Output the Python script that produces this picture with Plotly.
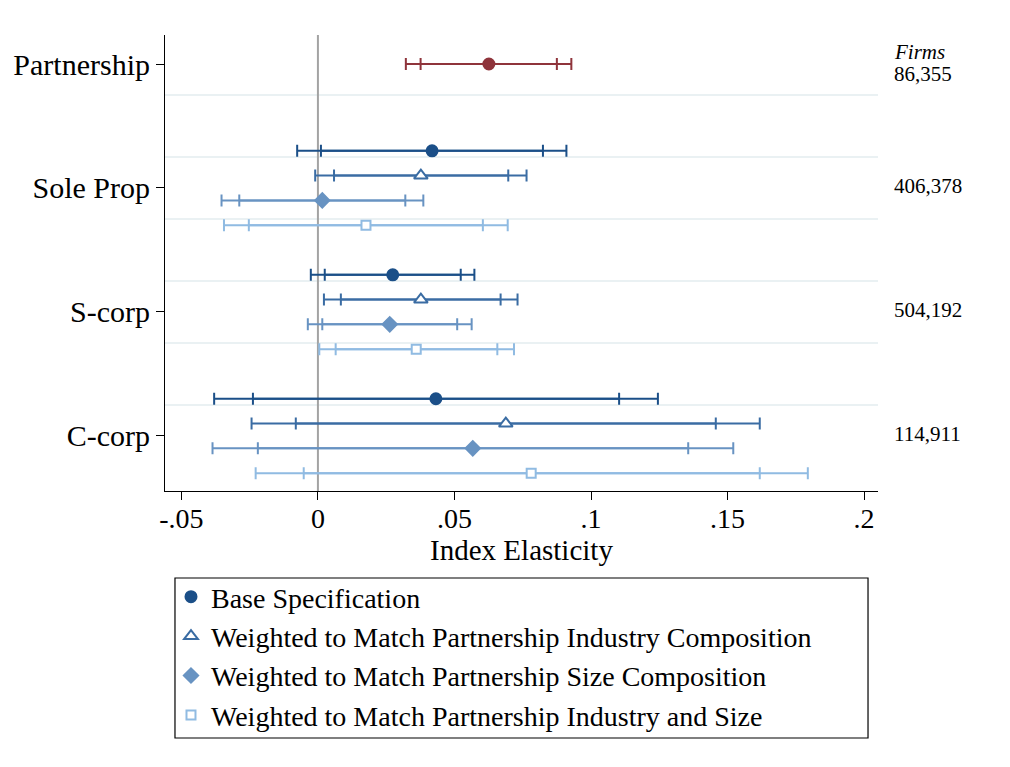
import plotly.graph_objects as go

# ---------------- data ----------------
categories = ["Partnership", "Sole Prop", "S-corp", "C-corp"]
firms = ["86,355", "406,378", "504,192", "114,911"]

# Partnership (reference group)
part_est = [0.0626]
part_lo95 = [0.0322]
part_lo90 = [0.0376]
part_hi90 = [0.0875]
part_hi95 = [0.0928]

# Other organisational forms: Sole Prop, S-corp, C-corp
base_est = [0.0418, 0.0274, 0.0432]
base_lo95 = [-0.0076, -0.0026, -0.0380]
base_lo90 = [0.0011, 0.0025, -0.0238]
base_hi90 = [0.0824, 0.0523, 0.1103]
base_hi95 = [0.0910, 0.0573, 0.1245]

ind_est = [0.0377, 0.0377, 0.0688]
ind_lo95 = [-0.0010, 0.0022, -0.0243]
ind_lo90 = [0.0059, 0.0084, -0.0081]
ind_hi90 = [0.0697, 0.0669, 0.1457]
ind_hi95 = [0.0764, 0.0731, 0.1618]

size_est = [0.0016, 0.0263, 0.0567]
size_lo95 = [-0.0353, -0.0037, -0.0386]
size_lo90 = [-0.0288, 0.0016, -0.0220]
size_hi90 = [0.0320, 0.0510, 0.1356]
size_hi95 = [0.0386, 0.0563, 0.1521]

both_est = [0.0176, 0.0360, 0.0781]
both_lo95 = [-0.0344, 0.0005, -0.0228]
both_lo90 = [-0.0253, 0.0065, -0.0052]
both_hi90 = [0.0604, 0.0657, 0.1618]
both_hi95 = [0.0695, 0.0718, 0.1794]

x_ticks = [-0.05, 0, 0.05, 0.1, 0.15, 0.2]
x_ticklabels = ["-.05", "0", ".05", ".1", ".15", ".2"]

# ---------------- styling ----------------
FONT = "'Liberation Serif', 'Times New Roman', 'DejaVu Serif', serif"
RED = "#8f343b"
specs = [
    dict(name="Base Specification", est=base_est, lo95=base_lo95, lo90=base_lo90,
         hi90=base_hi90, hi95=base_hi95, color="#1b4f88", symbol="circle",
         fill="#1b4f88", size=11),
    dict(name="Weighted to Match Partnership Industry Composition", est=ind_est,
         lo95=ind_lo95, lo90=ind_lo90, hi90=ind_hi90, hi95=ind_hi95,
         color="#3a6ca3", symbol="triangle-up", fill="white", size=12),
    dict(name="Weighted to Match Partnership Size Composition", est=size_est,
         lo95=size_lo95, lo90=size_lo90, hi90=size_hi90, hi95=size_hi95,
         color="#6893c2", symbol="diamond", fill="#6893c2", size=11),
    dict(name="Weighted to Match Partnership Industry and Size", est=both_est,
         lo95=both_lo95, lo90=both_lo90, hi90=both_hi90, hi95=both_hi95,
         color="#90bbe2", symbol="square", fill="white", size=9),
]
offsets = [-0.3, -0.1, 0.1, 0.3]
CAP = 6
TH = 2

fig = go.Figure()


def add_ci(y, est, lo95, lo90, hi90, hi95, color, symbol, fill, size, name,
           showlegend, group):
    # 90% interval (inner caps)
    fig.add_trace(go.Scatter(
        x=est, y=y, mode="markers",
        marker=dict(size=1, color="rgba(0,0,0,0)"),
        error_x=dict(type="data", symmetric=False,
                     array=[h - e for h, e in zip(hi90, est)],
                     arrayminus=[e - l for e, l in zip(est, lo90)],
                     color=color, thickness=TH, width=CAP),
        showlegend=False, legendgroup=group, hoverinfo="skip"))
    # 95% interval (outer caps) + point estimate
    fig.add_trace(go.Scatter(
        x=est, y=y, mode="markers", name=name,
        marker=dict(size=size, symbol=symbol, color=fill,
                    line=dict(color=color, width=2)),
        error_x=dict(type="data", symmetric=False,
                     array=[h - e for h, e in zip(hi95, est)],
                     arrayminus=[e - l for e, l in zip(est, lo95)],
                     color=color, thickness=TH, width=CAP),
        showlegend=showlegend, legendgroup=group))


add_ci([0], part_est, part_lo95, part_lo90, part_hi90, part_hi95, RED,
       "circle", RED, 11, "Partnership", False, "part")

for k, s in enumerate(specs):
    ys = [g + offsets[k] for g in range(1, len(categories))]
    add_ci(ys, s["est"], s["lo95"], s["lo90"], s["hi90"], s["hi95"],
           s["color"], s["symbol"], s["fill"], s["size"], s["name"], True,
           "g%d" % k)

shapes = []
# light separators between category blocks
for g in range(len(categories) - 1):
    for d in (0.25, 0.75):
        shapes.append(dict(type="line", xref="paper", x0=0, x1=1, yref="y",
                           y0=g + d, y1=g + d, layer="below",
                           line=dict(color="#eaf1f3", width=2)))
# zero line
shapes.append(dict(type="line", xref="x", x0=0, x1=0, yref="paper", y0=0,
                   y1=1, layer="below", line=dict(color="#a3a3a3", width=2)))
# legend frame
shapes.append(dict(type="rect", xref="paper", yref="paper", x0=0.014,
                   x1=0.986, y0=-0.5417, y1=-0.1908,
                   line=dict(color="black", width=1.2),
                   fillcolor="rgba(0,0,0,0)"))

annotations = []
for i, f in enumerate(firms):
    annotations.append(dict(xref="paper", x=1.019, yref="y", y=i, text=f,
                            showarrow=False, xanchor="left", yanchor="middle",
                            yshift=-10 if i == 0 else 2,
                            font=dict(family=FONT, size=21, color="black")))
annotations.append(dict(xref="paper", x=1.019, yref="y", y=0,
                        text="<i>Firms</i>", showarrow=False, xanchor="left",
                        yanchor="middle", yshift=12,
                        font=dict(family=FONT, size=21, color="black")))

fig.update_layout(
    width=1010, height=767,
    margin=dict(l=165, r=132, t=35, b=276),
    paper_bgcolor="white", plot_bgcolor="white",
    font=dict(family=FONT, size=28, color="black"),
    shapes=shapes, annotations=annotations,
    xaxis=dict(range=[-0.0560, 0.2051], tickvals=x_ticks,
               ticktext=x_ticklabels, showgrid=False, zeroline=False,
               showline=True, linecolor="black", linewidth=1,
               ticks="outside", ticklen=8, tickcolor="black",
               ticklabelstandoff=-6,
               tickfont=dict(family=FONT, size=28),
               title=dict(text="Index Elasticity", standoff=0,
                          font=dict(family=FONT, size=29))),
    yaxis=dict(range=[3.444, -0.234], tickvals=list(range(len(categories))),
               ticktext=categories, showgrid=False, zeroline=False,
               showline=True, linecolor="black", linewidth=1,
               ticks="outside", ticklen=8, tickcolor="black",
               tickfont=dict(family=FONT, size=30)),
    legend=dict(x=0.0084, y=-0.1776, xanchor="left", yanchor="top",
                bgcolor="rgba(0,0,0,0)", borderwidth=0,
                font=dict(family=FONT, size=28), tracegroupgap=0,
                itemsizing="trace"),
    showlegend=True,
)

fig.write_html("out.html")
